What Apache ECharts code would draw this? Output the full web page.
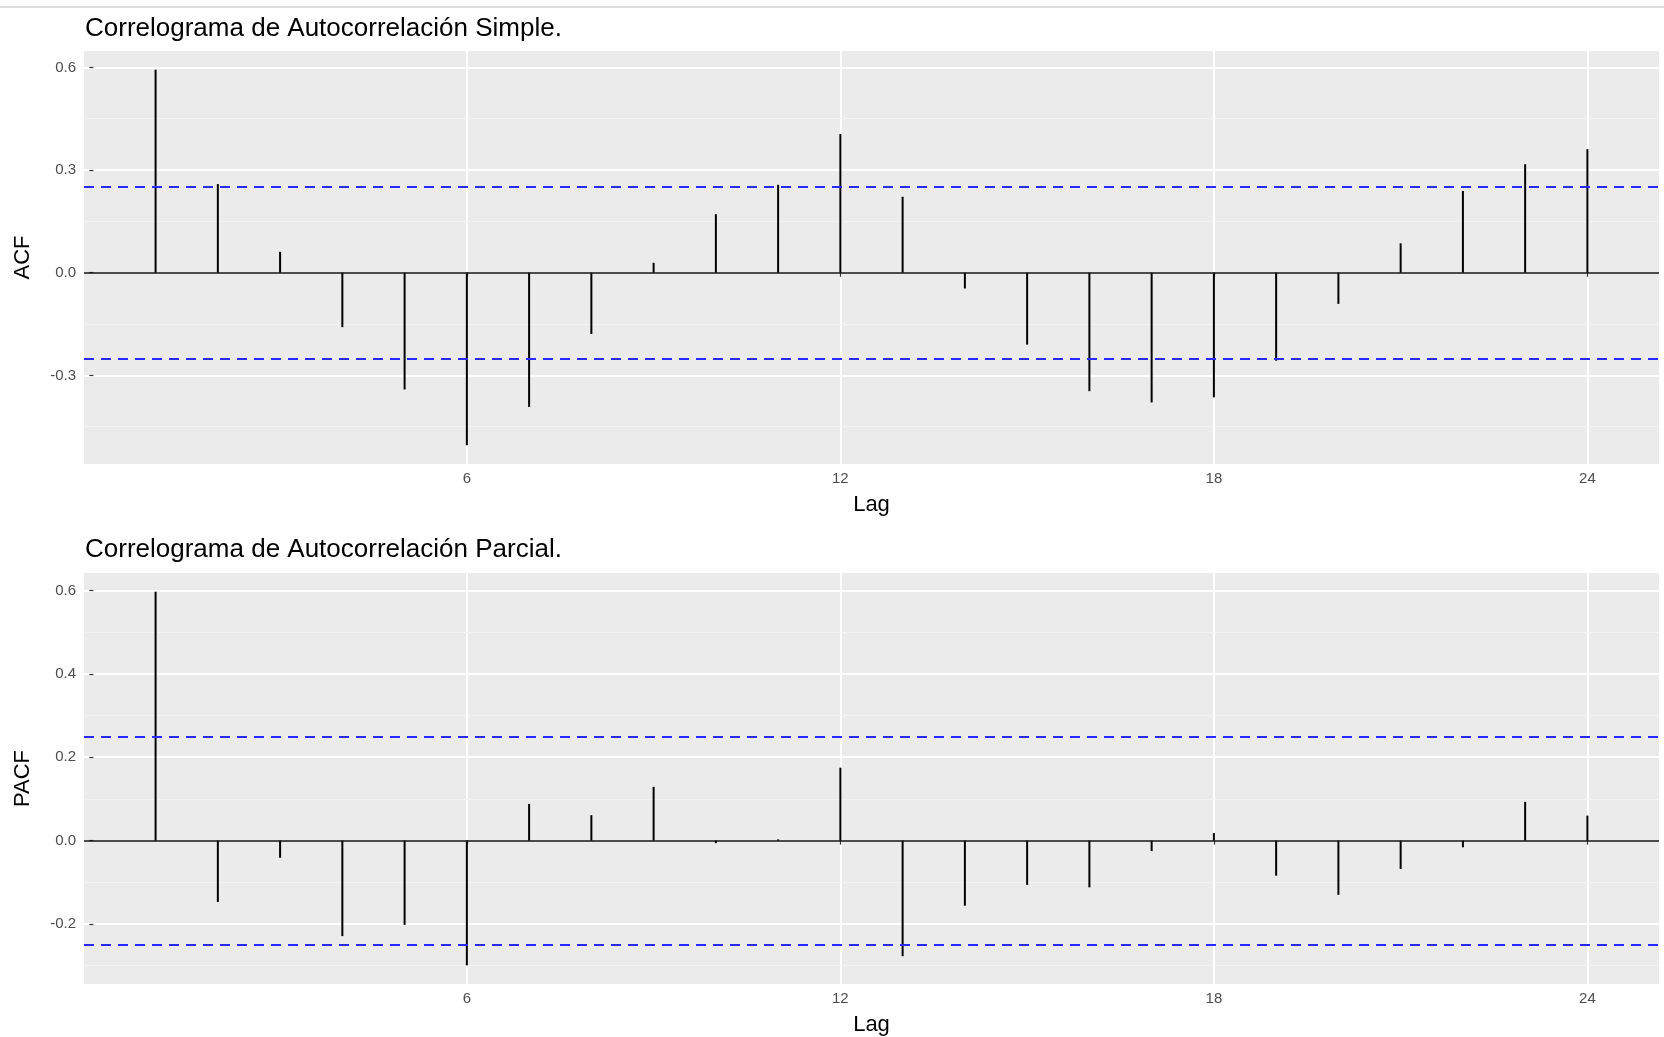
<!DOCTYPE html>
<html>
<head>
<meta charset="utf-8">
<title>Correlogramas ACF / PACF</title>
<script src="https://cdn.jsdelivr.net/npm/echarts@6/dist/echarts.min.js"></script>
<style>
  html, body { margin: 0; padding: 0; background: #fff; }
  #chart { width: 1664px; height: 1037px; }
</style>
</head>
<body>
<div id="chart"></div>
<script>
var lags = [1, 2, 3, 4, 5, 6, 7, 8, 9, 10, 11, 12, 13, 14, 15, 16, 17, 18, 19, 20, 21, 22, 23, 24];
var acfValues = [0.593, 0.259, 0.061, -0.159, -0.341, -0.504, -0.392, -0.179, 0.029, 0.171, 0.257, 0.405,
  0.222, -0.046, -0.210, -0.346, -0.379, -0.364, -0.257, -0.091, 0.086, 0.239, 0.317, 0.361];
var pacfValues = [0.597, -0.147, -0.041, -0.229, -0.202, -0.299, 0.088, 0.061, 0.129, -0.006, 0.003, 0.175,
  -0.277, -0.156, -0.106, -0.112, -0.025, 0.018, -0.084, -0.130, -0.068, -0.016, 0.093, 0.060];
var confLimit = 0.247;
var lagTicks = [6, 12, 18, 24];
var acfTicks = [-0.3, 0, 0.3, 0.6];
var acfMinorTicks = [-0.45, -0.15, 0.15, 0.45];
var pacfTicks = [-0.2, 0, 0.2, 0.4, 0.6];
var pacfMinorTicks = [-0.3, -0.1, 0.1, 0.3, 0.5];

(function () {
  var FONT = '"Liberation Sans", Arial, Helvetica, sans-serif';
  var chart = echarts.init(document.getElementById('chart'), null, { renderer: 'canvas' });

  // ggplot adds 5% on each side of the data range
  function expand(values) {
    var lo = Math.min.apply(null, values);
    var hi = Math.max.apply(null, values);
    var pad = (hi - lo) * 0.05;
    return { min: lo - pad, max: hi + pad };
  }

  function pairs(values) {
    return lags.map(function (lag, i) {
      return [lag, values[i]];
    });
  }

  function hLines(values, color, width, type) {
    return values.map(function (v) {
      return { yAxis: v, lineStyle: { color: color, width: width, type: type } };
    });
  }

  var xRange = expand(lags);
  var acfRange = expand(acfValues);
  var pacfRange = expand(pacfValues);

  function xAxis(gridIndex) {
    return {
      type: 'value',
      gridIndex: gridIndex,
      min: xRange.min,
      max: xRange.max,
      name: 'Lag',
      nameLocation: 'middle',
      nameGap: 30,
      nameTextStyle: { color: '#000', fontSize: 22, fontFamily: FONT },
      axisLine: { show: false },
      axisTick: { show: true, length: 4, customValues: lagTicks, lineStyle: { color: '#333', width: 1.2 } },
      axisLabel: { customValues: lagTicks, color: '#4d4d4d', fontSize: 15, margin: 7, fontFamily: FONT },
      splitLine: { show: true, lineStyle: { color: '#fff', width: 2 } },
    };
  }

  function yAxis(gridIndex, name, range, ticks) {
    return {
      type: 'value',
      gridIndex: gridIndex,
      min: range.min,
      max: range.max,
      name: name,
      nameLocation: 'middle',
      nameGap: 50,
      nameTextStyle: { color: '#000', fontSize: 22, fontFamily: FONT },
      axisLine: { show: false },
      axisTick: { show: true, length: 4, customValues: ticks, lineStyle: { color: '#333', width: 1.2 } },
      axisLabel: {
        customValues: ticks,
        color: '#4d4d4d',
        fontSize: 15,
        margin: 8,
        fontFamily: FONT,
        formatter: function (v) {
          return v.toFixed(1);
        },
      },
      splitLine: { show: true, lineStyle: { color: '#fff', width: 2 } },
    };
  }

  function panelSeries(idx, values, minorTicks) {
    return [
      {
        // minor grid lines, kept under the bars
        type: 'line',
        xAxisIndex: idx,
        yAxisIndex: idx,
        data: [],
        z: 1,
        markLine: {
          z: 1,
          silent: true,
          symbol: 'none',
          animation: false,
          label: { show: false },
          data: hLines(minorTicks, '#f3f3f3', 1, 'solid'),
        },
      },
      {
        type: 'bar',
        xAxisIndex: idx,
        yAxisIndex: idx,
        barWidth: 2,
        data: pairs(values),
        itemStyle: { color: '#000' },
        z: 3,
        animation: false,
        markLine: {
          z: 4,
          silent: true,
          symbol: 'none',
          animation: false,
          label: { show: false },
          data: hLines([0], '#111', 1.6, 'solid')
            .concat(hLines([confLimit, -confLimit], '#2a2aff', 2, [10, 7])),
        },
      },
    ];
  }

  var option = {
    backgroundColor: '#fff',
    animation: false,
    title: [
      {
        text: 'Correlograma de Autocorrelación Simple.',
        left: 80,
        top: 11,
        textStyle: { color: '#000', fontSize: 26, fontWeight: 'normal', fontFamily: FONT },
      },
      {
        text: 'Correlograma de Autocorrelación Parcial.',
        left: 80,
        top: 532,
        textStyle: { color: '#000', fontSize: 26, fontWeight: 'normal', fontFamily: FONT },
      },
    ],
    graphic: [
      {
        type: 'line',
        shape: { x1: 0, y1: 7, x2: 1664, y2: 7 },
        style: { stroke: '#d2d2d2', lineWidth: 1.5 },
      },
    ],
    grid: [
      { left: 84, right: 5, top: 51, height: 413, show: true, backgroundColor: '#ebebeb', borderWidth: 0 },
      { left: 84, right: 5, top: 573, height: 411, show: true, backgroundColor: '#ebebeb', borderWidth: 0 },
    ],
    xAxis: [xAxis(0), xAxis(1)],
    yAxis: [
      yAxis(0, 'ACF', acfRange, acfTicks),
      yAxis(1, 'PACF', pacfRange, pacfTicks),
    ],
    series: panelSeries(0, acfValues, acfMinorTicks).concat(panelSeries(1, pacfValues, pacfMinorTicks)),
  };

  chart.setOption(option);
})();
</script>
</body>
</html>
